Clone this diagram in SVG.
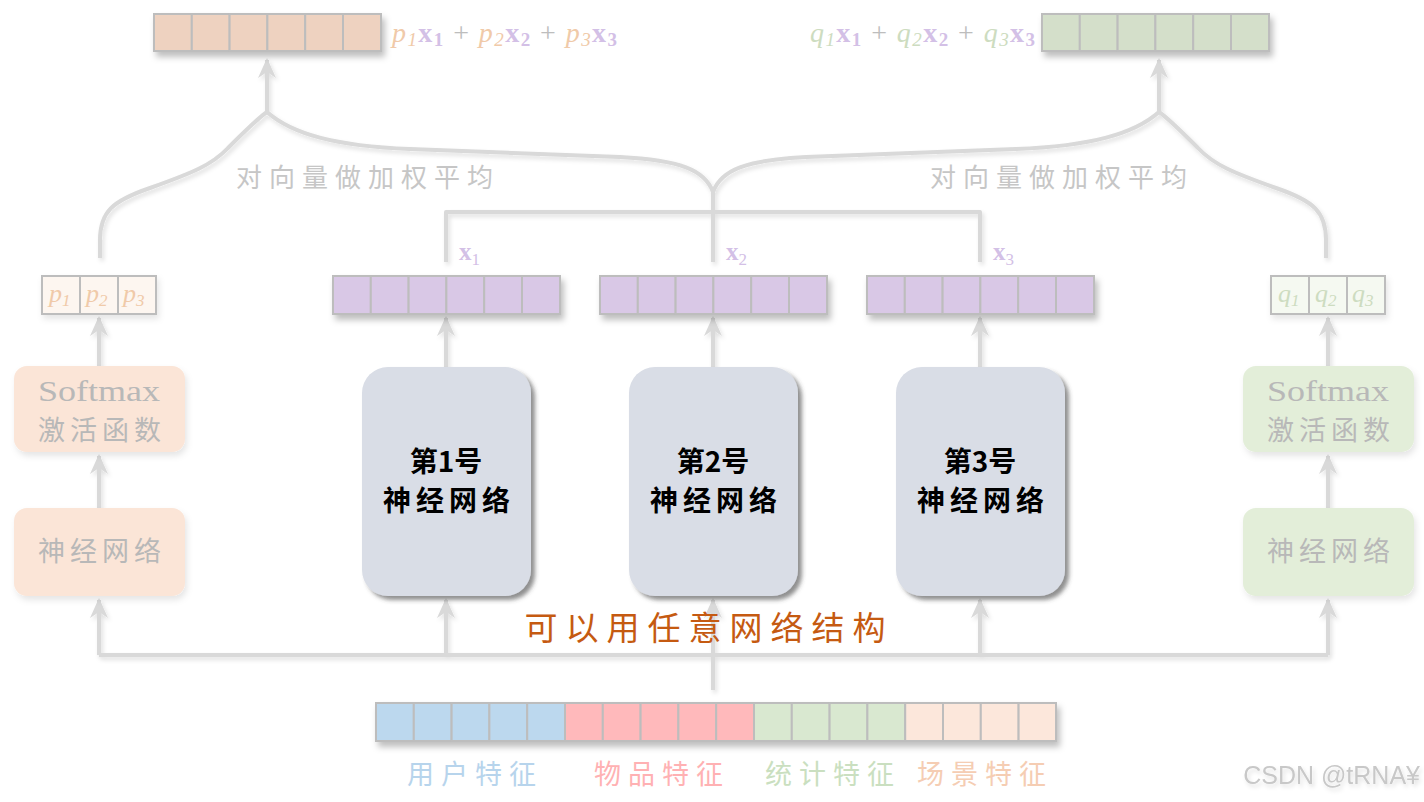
<svg xmlns="http://www.w3.org/2000/svg" width="1424" height="802" viewBox="0 0 1424 802">
<defs>
<style>
.ln{fill:none;stroke:#d9d9d9;stroke-width:4;stroke-linejoin:round}
.cell{stroke:#bdbdbd;stroke-width:2}
.cn{font-family:"Noto Sans CJK SC","Noto Sans",sans-serif}
.ser{font-family:"Liberation Serif","DejaVu Serif",serif}
.gray{fill:#b8b8b8}
.pp{fill:#f0caa9;font-style:italic}
.qq{fill:#cddcc0;font-style:italic}
.xx{fill:#d3c0e6;font-weight:bold}
.pl{fill:#bdbdbd}
</style>
<marker id="ah" markerUnits="userSpaceOnUse" markerWidth="20" markerHeight="20" viewBox="0 0 20 20" refX="18" refY="10" orient="auto">
<path d="M0,1 L20,10 L0,19 L6,10 z" fill="#d9d9d9"/>
</marker>
<filter id="sh" x="-20%" y="-20%" width="140%" height="160%">
<feDropShadow dx="3" dy="5" stdDeviation="3" flood-color="#000" flood-opacity="0.25"/>
</filter>
<filter id="shb" x="-20%" y="-20%" width="140%" height="140%">
<feDropShadow dx="4" dy="4" stdDeviation="2" flood-color="#444" flood-opacity="0.6"/>
</filter>
<filter id="shl" x="-20%" y="-20%" width="140%" height="140%">
<feDropShadow dx="2" dy="3" stdDeviation="2" flood-color="#000" flood-opacity="0.12"/>
</filter>
<filter id="shs" x="-20%" y="-20%" width="140%" height="160%">
<feDropShadow dx="2" dy="4" stdDeviation="3" flood-color="#000" flood-opacity="0.1"/>
</filter>
</defs>
<rect width="1424" height="802" fill="#ffffff"/>

<g id="connectors" filter="url(#shl)">
<path class="ln" d="M267,112 L267,60" marker-end="url(#ah)"/>
<path class="ln" d="M1159,112 L1159,60" marker-end="url(#ah)"/>
<path class="ln" d="M100,258 L100,240 C100,212 112,201 150,188 C192,173 212,165 228,148 C244,132 258,118 267,112"/>
<path class="ln" d="M267,112 C292,134 335,146 410,149 L620,157 C680,160 705,170 713,192"/>
<path class="ln" d="M1326,258 L1326,240 C1326,212 1314,201 1276,188 C1234,173 1214,165 1198,148 C1182,132 1168,118 1159,112"/>
<path class="ln" d="M1159,112 C1134,134 1091,146 1016,149 L806,157 C746,160 721,170 713,192"/>
<path class="ln" d="M713,192 L713,262"/>
<path class="ln" d="M446,262 L446,212 L980,212 L980,262"/>
<path class="ln" d="M446,367 L446,318" marker-end="url(#ah)"/>
<path class="ln" d="M713,367 L713,318" marker-end="url(#ah)"/>
<path class="ln" d="M980,367 L980,318" marker-end="url(#ah)"/>
<path class="ln" d="M99,366 L99,318" marker-end="url(#ah)"/>
<path class="ln" d="M99,508 L99,456" marker-end="url(#ah)"/>
<path class="ln" d="M1328,366 L1328,318" marker-end="url(#ah)"/>
<path class="ln" d="M1328,508 L1328,456" marker-end="url(#ah)"/>
<path class="ln" d="M99,655 L1328,655"/>
<path class="ln" d="M99,655 L99,600" marker-end="url(#ah)"/>
<path class="ln" d="M446,655 L446,600" marker-end="url(#ah)"/>
<path class="ln" d="M980,655 L980,600" marker-end="url(#ah)"/>
<path class="ln" d="M1328,655 L1328,600" marker-end="url(#ah)"/>
<path class="ln" d="M713,690 L713,600" marker-end="url(#ah)"/>
</g>

<g id="brace-labels">
<text class="cn" x="368" y="187" font-size="26" fill="#c6c6c6" text-anchor="middle" letter-spacing="7">对向量做加权平均</text>
<text class="cn" x="1062" y="187" font-size="26" fill="#c6c6c6" text-anchor="middle" letter-spacing="7">对向量做加权平均</text>
</g>

<g id="out-left">
<g filter="url(#sh)" fill="#eed2c0">
<rect class="cell" x="154" y="14" width="37.8" height="37"/>
<rect class="cell" x="191.8" y="14" width="37.8" height="37"/>
<rect class="cell" x="229.6" y="14" width="37.8" height="37"/>
<rect class="cell" x="267.4" y="14" width="37.8" height="37"/>
<rect class="cell" x="305.2" y="14" width="37.8" height="37"/>
<rect class="cell" x="343" y="14" width="38" height="37"/>
</g>
<text class="ser" x="392" y="42" font-size="28" textLength="225" lengthAdjust="spacing"><tspan class="pp">p</tspan><tspan class="pp" font-size="19" dy="4" font-style="normal">1</tspan><tspan class="xx" dy="-4">x</tspan><tspan class="xx" font-size="19" dy="4" font-weight="normal">1</tspan><tspan class="pl" dy="-4"> + </tspan><tspan class="pp">p</tspan><tspan class="pp" font-size="19" dy="4" font-style="normal">2</tspan><tspan class="xx" dy="-4">x</tspan><tspan class="xx" font-size="19" dy="4" font-weight="normal">2</tspan><tspan class="pl" dy="-4"> + </tspan><tspan class="pp">p</tspan><tspan class="pp" font-size="19" dy="4" font-style="normal">3</tspan><tspan class="xx" dy="-4">x</tspan><tspan class="xx" font-size="19" dy="4" font-weight="normal">3</tspan></text>
</g>

<g id="out-right">
<g filter="url(#sh)" fill="#d4dfca">
<rect class="cell" x="1042" y="14" width="37.8" height="37"/>
<rect class="cell" x="1079.8" y="14" width="37.8" height="37"/>
<rect class="cell" x="1117.6" y="14" width="37.8" height="37"/>
<rect class="cell" x="1155.4" y="14" width="37.8" height="37"/>
<rect class="cell" x="1193.2" y="14" width="37.8" height="37"/>
<rect class="cell" x="1231" y="14" width="38" height="37"/>
</g>
<text class="ser" x="810" y="42" font-size="28" textLength="225" lengthAdjust="spacing"><tspan class="qq">q</tspan><tspan class="qq" font-size="19" dy="4" font-style="normal">1</tspan><tspan class="xx" dy="-4">x</tspan><tspan class="xx" font-size="19" dy="4" font-weight="normal">1</tspan><tspan class="pl" dy="-4"> + </tspan><tspan class="qq">q</tspan><tspan class="qq" font-size="19" dy="4" font-style="normal">2</tspan><tspan class="xx" dy="-4">x</tspan><tspan class="xx" font-size="19" dy="4" font-weight="normal">2</tspan><tspan class="pl" dy="-4"> + </tspan><tspan class="qq">q</tspan><tspan class="qq" font-size="19" dy="4" font-style="normal">3</tspan><tspan class="xx" dy="-4">x</tspan><tspan class="xx" font-size="19" dy="4" font-weight="normal">3</tspan></text>
</g>

<g id="vec-x1">
<g filter="url(#sh)" fill="#d9c8e6">
<rect class="cell" x="333" y="276" width="37.8" height="38"/>
<rect class="cell" x="370.8" y="276" width="37.8" height="38"/>
<rect class="cell" x="408.6" y="276" width="37.8" height="38"/>
<rect class="cell" x="446.4" y="276" width="37.8" height="38"/>
<rect class="cell" x="484.2" y="276" width="37.8" height="38"/>
<rect class="cell" x="522" y="276" width="38" height="38"/>
</g>
<text class="ser" x="459" y="260" font-size="25"><tspan class="xx">x</tspan><tspan fill="#d3c0e6" font-size="17" dy="5">1</tspan></text>
</g>
<g id="vec-x2">
<g filter="url(#sh)" fill="#d9c8e6">
<rect class="cell" x="600" y="276" width="37.8" height="38"/>
<rect class="cell" x="637.8" y="276" width="37.8" height="38"/>
<rect class="cell" x="675.6" y="276" width="37.8" height="38"/>
<rect class="cell" x="713.4" y="276" width="37.8" height="38"/>
<rect class="cell" x="751.2" y="276" width="37.8" height="38"/>
<rect class="cell" x="789" y="276" width="38" height="38"/>
</g>
<text class="ser" x="726" y="260" font-size="25"><tspan class="xx">x</tspan><tspan fill="#d3c0e6" font-size="17" dy="5">2</tspan></text>
</g>
<g id="vec-x3">
<g filter="url(#sh)" fill="#d9c8e6">
<rect class="cell" x="867" y="276" width="37.8" height="38"/>
<rect class="cell" x="904.8" y="276" width="37.8" height="38"/>
<rect class="cell" x="942.6" y="276" width="37.8" height="38"/>
<rect class="cell" x="980.4" y="276" width="37.8" height="38"/>
<rect class="cell" x="1018.2" y="276" width="37.8" height="38"/>
<rect class="cell" x="1056" y="276" width="38" height="38"/>
</g>
<text class="ser" x="993" y="260" font-size="25"><tspan class="xx">x</tspan><tspan fill="#d3c0e6" font-size="17" dy="5">3</tspan></text>
</g>

<g id="p-weights">
<g filter="url(#shs)" fill="#fdf6f0">
<rect class="cell" x="42" y="276" width="38" height="38"/>
<rect class="cell" x="80" y="276" width="38" height="38"/>
<rect class="cell" x="118" y="276" width="38" height="38"/>
</g>
<text class="ser" font-size="26"><tspan class="pp" x="49" y="302">p</tspan><tspan class="pp" font-size="17" font-style="normal" dy="4">1</tspan><tspan class="pp" x="86" y="302">p</tspan><tspan class="pp" font-size="17" font-style="normal" dy="4">2</tspan><tspan class="pp" x="123" y="302">p</tspan><tspan class="pp" font-size="17" font-style="normal" dy="4">3</tspan></text>
</g>
<g id="q-weights">
<g filter="url(#shs)" fill="#f5f9f1">
<rect class="cell" x="1271" y="276" width="38" height="38"/>
<rect class="cell" x="1309" y="276" width="38" height="38"/>
<rect class="cell" x="1347" y="276" width="38" height="38"/>
</g>
<text class="ser" font-size="26"><tspan class="qq" x="1278" y="302">q</tspan><tspan class="qq" font-size="17" font-style="normal" dy="4">1</tspan><tspan class="qq" x="1315" y="302">q</tspan><tspan class="qq" font-size="17" font-style="normal" dy="4">2</tspan><tspan class="qq" x="1352" y="302">q</tspan><tspan class="qq" font-size="17" font-style="normal" dy="4">3</tspan></text>
</g>

<g id="softmax-left">
<rect x="14" y="366" width="171" height="86" rx="13" fill="#fbe5d7" filter="url(#shs)"/>
<text class="ser gray" x="99" y="401" font-size="30" text-anchor="middle" textLength="122" lengthAdjust="spacingAndGlyphs">Softmax</text>
<text class="cn gray" x="102" y="440" font-size="27" text-anchor="middle" letter-spacing="5">激活函数</text>
</g>
<g id="softmax-right">
<rect x="1243" y="366" width="171" height="86" rx="13" fill="#e3eed9" filter="url(#shs)"/>
<text class="ser gray" x="1328" y="401" font-size="30" text-anchor="middle" textLength="122" lengthAdjust="spacingAndGlyphs">Softmax</text>
<text class="cn gray" x="1331" y="440" font-size="27" text-anchor="middle" letter-spacing="5">激活函数</text>
</g>
<g id="nn-left">
<rect x="14" y="508" width="171" height="88" rx="13" fill="#fbe5d7" filter="url(#shs)"/>
<text class="cn gray" x="102" y="561" font-size="27" text-anchor="middle" letter-spacing="5">神经网络</text>
</g>
<g id="nn-right">
<rect x="1243" y="508" width="171" height="88" rx="13" fill="#e3eed9" filter="url(#shs)"/>
<text class="cn gray" x="1331" y="561" font-size="27" text-anchor="middle" letter-spacing="5">神经网络</text>
</g>

<g id="net1">
<rect x="362" y="367" width="169" height="229" rx="26" fill="#d9dde6" filter="url(#shb)"/>
<text class="cn" x="446" y="472" font-size="28" font-weight="bold" fill="#000" text-anchor="middle">第1号</text>
<text class="cn" x="449" y="511" font-size="28" font-weight="bold" fill="#000" text-anchor="middle" letter-spacing="5">神经网络</text>
</g>
<g id="net2">
<rect x="629" y="367" width="169" height="229" rx="26" fill="#d9dde6" filter="url(#shb)"/>
<text class="cn" x="713" y="472" font-size="28" font-weight="bold" fill="#000" text-anchor="middle">第2号</text>
<text class="cn" x="716" y="511" font-size="28" font-weight="bold" fill="#000" text-anchor="middle" letter-spacing="5">神经网络</text>
</g>
<g id="net3">
<rect x="896" y="367" width="169" height="229" rx="26" fill="#d9dde6" filter="url(#shb)"/>
<text class="cn" x="980" y="472" font-size="28" font-weight="bold" fill="#000" text-anchor="middle">第3号</text>
<text class="cn" x="983" y="511" font-size="28" font-weight="bold" fill="#000" text-anchor="middle" letter-spacing="5">神经网络</text>
</g>

<g id="any-net-label">
<text class="cn" x="709" y="640" font-size="33" fill="#c55a11" text-anchor="middle" letter-spacing="8">可以用任意网络结构</text>
</g>

<g id="features">
<g filter="url(#sh)">
<rect class="cell" fill="#bcd8ee" x="376" y="703" width="37.8" height="38"/>
<rect class="cell" fill="#bcd8ee" x="413.8" y="703" width="37.8" height="38"/>
<rect class="cell" fill="#bcd8ee" x="451.6" y="703" width="37.8" height="38"/>
<rect class="cell" fill="#bcd8ee" x="489.4" y="703" width="37.8" height="38"/>
<rect class="cell" fill="#bcd8ee" x="527.2" y="703" width="37.8" height="38"/>
<rect class="cell" fill="#ffb9bb" x="565" y="703" width="37.8" height="38"/>
<rect class="cell" fill="#ffb9bb" x="602.8" y="703" width="37.8" height="38"/>
<rect class="cell" fill="#ffb9bb" x="640.6" y="703" width="37.8" height="38"/>
<rect class="cell" fill="#ffb9bb" x="678.4" y="703" width="37.8" height="38"/>
<rect class="cell" fill="#ffb9bb" x="716.2" y="703" width="37.8" height="38"/>
<rect class="cell" fill="#d9e8d0" x="754" y="703" width="37.8" height="38"/>
<rect class="cell" fill="#d9e8d0" x="791.8" y="703" width="37.8" height="38"/>
<rect class="cell" fill="#d9e8d0" x="829.6" y="703" width="37.8" height="38"/>
<rect class="cell" fill="#d9e8d0" x="867.4" y="703" width="37.8" height="38"/>
<rect class="cell" fill="#fce7db" x="905.2" y="703" width="37.8" height="38"/>
<rect class="cell" fill="#fce7db" x="943" y="703" width="37.8" height="38"/>
<rect class="cell" fill="#fce7db" x="980.8" y="703" width="37.8" height="38"/>
<rect class="cell" fill="#fce7db" x="1018.6" y="703" width="37.4" height="38"/>
</g>
<text class="cn" x="475" y="784" font-size="27" fill="#b7d4ec" text-anchor="middle" letter-spacing="7">用户特征</text>
<text class="cn" x="662" y="784" font-size="27" fill="#ffb1b3" text-anchor="middle" letter-spacing="7">物品特征</text>
<text class="cn" x="833" y="784" font-size="27" fill="#cadfc0" text-anchor="middle" letter-spacing="7">统计特征</text>
<text class="cn" x="985" y="784" font-size="27" fill="#f5cdb3" text-anchor="middle" letter-spacing="7">场景特征</text>
</g>

<g id="watermark">
<text x="1420" y="784" font-family="Liberation Sans, Arial, sans-serif" font-size="25" fill="#c8c8c8" text-anchor="end" filter="url(#shl)">CSDN @tRNA¥</text>
</g>
</svg>
